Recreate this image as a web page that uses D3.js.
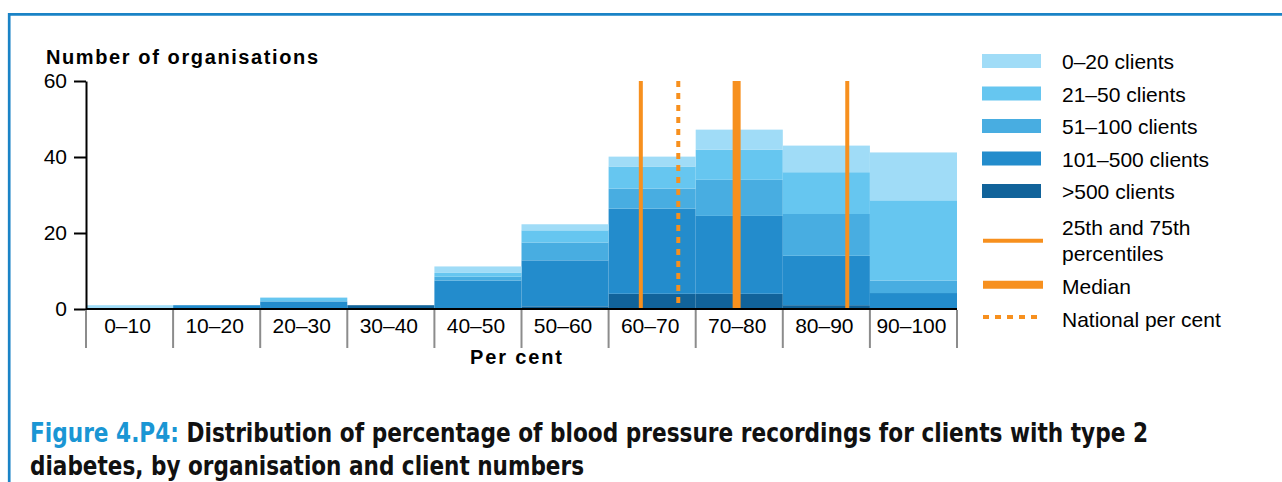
<!DOCTYPE html>
<html>
<head>
<meta charset="utf-8">
<script src="https://cdn.jsdelivr.net/npm/d3@7"></script>
<style>
  html, body { margin: 0; padding: 0; background: #fff; }
  svg { display: block; font-family: "Liberation Sans", Arial, sans-serif; }
</style>
</head>
<body>
<svg id="chart" width="1282" height="482"></svg>
<script>
// bins along the x axis (per cent)
const BINS = ['0–10', '10–20', '20–30', '30–40', '40–50', '50–60', '60–70', '70–80', '80–90', '90–100'];
const BIN_EDGES = [0, 10, 20, 30, 40, 50, 60, 70, 80, 90, 100];

// organisations per bin, by client numbers
const CLIENTS_0_20    = [1, 0, 0, 0, 1.7, 1.6, 2.6, 5.3, 7, 12.6];
const CLIENTS_21_50   = [0, 0, 1, 0, 1, 3.2, 5.8, 7.9, 11, 21.1];
const CLIENTS_51_100  = [0, 0, 0, 0, 1, 4.7, 5.3, 9.5, 11, 3.3];
const CLIENTS_101_500 = [0, 1, 2, 0, 7.5, 12.1, 22.4, 20.5, 13, 4.2];
const CLIENTS_OVER_500 = [0, 0, 0, 1, 0, 0.7, 4, 4, 1, 0];

const GROUPS = ['0–20 clients', '21–50 clients', '51–100 clients', '101–500 clients', '>500 clients'];
const Y_TICKS = [0, 20, 40, 60];

// reference lines (per cent)
const PCT_25 = 63.7;
const PCT_75 = 87.4;
const MEDIAN = 74.7;
const NATIONAL = 68.0;

const COLORS = {
  '0–20 clients': '#a0dcf7',
  '21–50 clients': '#66c6f0',
  '51–100 clients': '#48ade1',
  '101–500 clients': '#238ccc',
  '>500 clients': '#11639a',
};
const ORANGE = '#f7901e';
const FRAME_BLUE = '#1a83c6';

const svg = d3.select('#chart');

const series = {
  '0–20 clients': CLIENTS_0_20,
  '21–50 clients': CLIENTS_21_50,
  '51–100 clients': CLIENTS_51_100,
  '101–500 clients': CLIENTS_101_500,
  '>500 clients': CLIENTS_OVER_500,
};
const rows = BINS.map((bin, i) => {
  const r = { bin, lo: BIN_EDGES[i], hi: BIN_EDGES[i + 1] };
  GROUPS.forEach(g => { r[g] = series[g][i]; });
  return r;
});

const x = d3.scaleLinear().domain([0, 100]).range([86, 957]);
const y = d3.scaleLinear().domain([0, 60]).range([309, 81]);

// frame
svg.append('line')
  .attr('x1', 9).attr('x2', 1282).attr('y1', 14.3).attr('y2', 14.3)
  .attr('stroke', FRAME_BLUE).attr('stroke-width', 2.7);
svg.append('line')
  .attr('x1', 9.2).attr('x2', 9.2).attr('y1', 13).attr('y2', 482)
  .attr('stroke', FRAME_BLUE).attr('stroke-width', 2.7);

// stacked bars, bottom group first
const stack = d3.stack().keys(GROUPS.slice().reverse());
const layers = stack(rows);

svg.append('g').selectAll('g').data(layers).join('g')
  .attr('fill', d => COLORS[d.key])
  .selectAll('rect').data(d => d).join('rect')
  .attr('x', d => x(d.data.lo))
  .attr('width', d => x(d.data.hi) - x(d.data.lo))
  .attr('y', d => y(d[1]))
  .attr('height', d => y(d[0]) - y(d[1]));

// reference lines
const refLines = [
  { value: PCT_25, w: 4 },
  { value: NATIONAL, w: 4, dash: '6,6' },
  { value: MEDIAN, w: 8 },
  { value: PCT_75, w: 4 },
];
svg.append('g').selectAll('line').data(refLines).join('line')
  .attr('x1', d => x(d.value)).attr('x2', d => x(d.value))
  .attr('y1', y(60)).attr('y2', y(0) + 1)
  .attr('stroke', ORANGE)
  .attr('stroke-width', d => d.w)
  .attr('stroke-dasharray', d => d.dash || null);

// y axis
svg.append('g')
  .attr('transform', `translate(${x(0)},0)`)
  .call(d3.axisLeft(y).tickValues(Y_TICKS).tickSize(12).tickPadding(7).tickSizeOuter(0))
  .call(a => a.select('.domain').attr('stroke', '#000').attr('stroke-width', 2))
  .call(a => a.selectAll('.tick line').attr('stroke', '#000').attr('stroke-width', 2))
  .call(a => a.selectAll('.tick text')
    .attr('fill', '#000').attr('font-size', 21)
    .attr('font-family', '"Liberation Sans", Arial, sans-serif'));

// x axis line
svg.append('line')
  .attr('x1', x(0)).attr('x2', x(100)).attr('y1', y(0)).attr('y2', y(0))
  .attr('stroke', '#000').attr('stroke-width', 2);

// bin separators
svg.append('g').selectAll('line').data(BIN_EDGES).join('line')
  .attr('x1', d => x(d)).attr('x2', d => x(d))
  .attr('y1', y(0) + 1).attr('y2', 348)
  .attr('stroke', '#8c8c8c').attr('stroke-width', 2);

// bin labels
svg.append('g').selectAll('text').data(rows).join('text')
  .attr('x', d => x((d.lo + d.hi) / 2) - 2)
  .attr('y', 333)
  .attr('text-anchor', 'middle')
  .attr('font-size', 21)
  .attr('fill', '#000')
  .text(d => d.bin);

// axis titles
svg.append('text')
  .attr('x', 46).attr('y', 64)
  .attr('font-size', 20).attr('font-weight', 700)
  .attr('textLength', 272).attr('lengthAdjust', 'spacing')
  .text('Number of organisations');

svg.append('text')
  .attr('x', 470).attr('y', 364)
  .attr('font-size', 20).attr('font-weight', 700)
  .attr('textLength', 92).attr('lengthAdjust', 'spacing')
  .text('Per cent');

// legend
const legend = svg.append('g');
GROUPS.forEach((g, i) => {
  const top = 54 + i * 32.5;
  legend.append('rect')
    .attr('x', 982).attr('y', top).attr('width', 59).attr('height', 14)
    .attr('fill', COLORS[g]);
  legend.append('text')
    .attr('x', 1062).attr('y', top + 15)
    .attr('font-size', 21).attr('fill', '#000')
    .text(g);
});

const lineItems = [
  { y: 240.7, w: 4, labels: ['25th and 75th', 'percentiles'], base: 235 },
  { y: 284.7, w: 8, labels: ['Median'], base: 294 },
  { y: 317, w: 4, dash: '6,6', labels: ['National per cent'], base: 327 },
];
lineItems.forEach(item => {
  legend.append('line')
    .attr('x1', 983).attr('x2', item.dash ? 1037 : 1043)
    .attr('y1', item.y).attr('y2', item.y)
    .attr('stroke', ORANGE).attr('stroke-width', item.w)
    .attr('stroke-dasharray', item.dash || null);
  item.labels.forEach((t, j) => {
    legend.append('text')
      .attr('x', 1062).attr('y', item.base + j * 26)
      .attr('font-size', 21).attr('fill', '#000')
      .text(t);
  });
});

// caption
const capFont = '"DejaVu Sans Condensed", "Liberation Sans Narrow", "Liberation Sans", sans-serif';
const cap1 = svg.append('text')
  .attr('x', 30).attr('y', 441.5)
  .attr('font-family', capFont)
  .attr('font-size', 26).attr('font-weight', 700)
  .attr('textLength', 1118).attr('lengthAdjust', 'spacingAndGlyphs');
cap1.append('tspan').attr('fill', '#1a96d4').text('Figure 4.P4: ');
cap1.append('tspan').attr('fill', '#111').text('Distribution of percentage of blood pressure recordings for clients with type 2');

svg.append('text')
  .attr('x', 30).attr('y', 475)
  .attr('font-family', capFont)
  .attr('font-size', 26).attr('font-weight', 700)
  .attr('fill', '#111')
  .attr('textLength', 554).attr('lengthAdjust', 'spacingAndGlyphs')
  .text('diabetes, by organisation and client numbers');
</script>
</body>
</html>
